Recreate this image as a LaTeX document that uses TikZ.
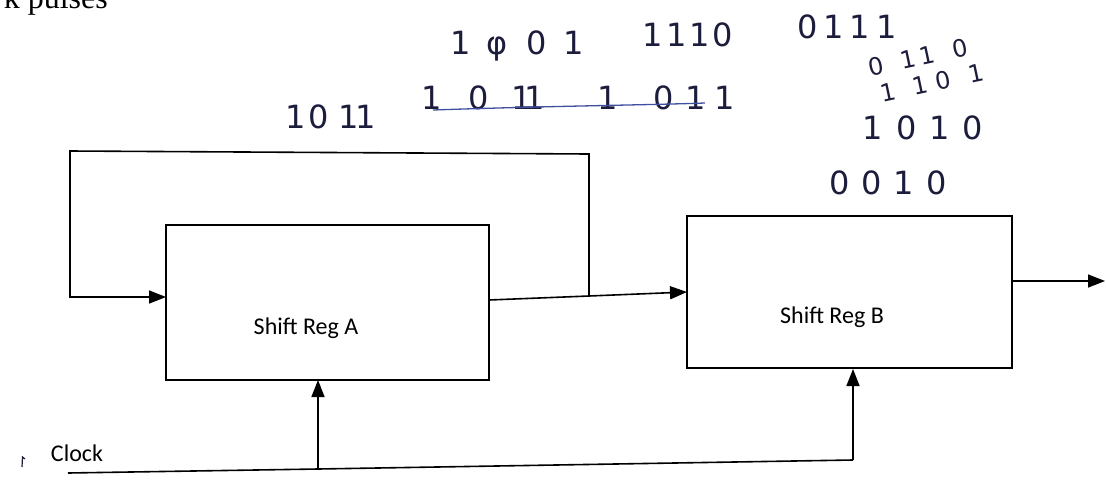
\documentclass[tikz,border=0pt]{standalone}
\usepackage{fontspec}
\setmainfont{Liberation Serif}
\newfontfamily\calfont{Carlito}
\newfontfamily\handfont{DejaVu Sans}
\usetikzlibrary{arrows.meta}
\definecolor{inkc}{HTML}{1C1C3C}
\definecolor{strikec}{HTML}{4050A0}
\tikzset{
  wire/.style={line width=1.6pt},
  arr/.style={wire,-{Triangle[length=17pt,width=13pt]}},
  regbox/.style={draw,line width=1.6pt,minimum width=#1,inner sep=0pt},
  lbl/.style={font=\calfont\fontsize{24}{28}\selectfont,inner sep=0pt},
  ink/.style={text=inkc,font=\handfont\fontsize{32}{32}\selectfont,inner sep=0pt},
  inksm/.style={text=inkc,font=\handfont\fontsize{24}{24}\selectfont,inner sep=0pt}
}
\newcommand{\hs}[1]{\hspace{#1pt}}
\begin{document}
\begin{tikzpicture}[x=1pt,y=-1pt]
\useasboundingbox (0,0) rectangle (1106,483);
% cut-off caption
\begin{scope}
\clip (0,0) rectangle (300,40);
\node[font=\fontsize{32}{32}\selectfont,inner sep=0pt,anchor=base east] (cap) at (108,8) {k pulses};
\end{scope}
% registers
\node[regbox=323pt,minimum height=155pt] (A) at (327.5,302.5) {};
\node[regbox=325pt,minimum height=152pt] (B) at (849.5,292) {};
\node[lbl] (la) at (306,328) {Shift Reg A};
\node[lbl] (lb) at (832,317) {Shift Reg B};
\node[lbl] (clk) at (77,453) {Clock};
% coordinates
\coordinate (aout) at (489,300);
\coordinate (J) at (589,296);
\coordinate (bin) at (687,292);
\coordinate (fbTR) at (589,154);
\coordinate (fbTL) at (70,151);
\coordinate (fbBL) at (70,297);
\coordinate (ain) at (166,297);
\coordinate (bout) at (1012,281);
\coordinate (out) at (1105,281);
\coordinate (ck0) at (68,473);
\coordinate (ckA) at (318,469);
\coordinate (ckB) at (853,460);
\coordinate (Abot) at (318,380);
\coordinate (Bbot) at (853,369);
% connectors
\draw[arr] (aout) -- (J) -- (bin);
\draw[arr] (J) -- (fbTR) -- (fbTL) -- (fbBL) -- (ain);
\draw[arr] (bout) -- (out);
\draw[wire] (ck0) -- (ckA) -- (ckB);
\draw[arr] (ckA) -- (Abot);
\draw[arr] (ckB) -- (Bbot);
% small pen mark
\draw[inkc,line width=1.2pt] (22,467) -- (22.5,457) -- (25,459);
% handwritten notes
\node[ink] (h1) at (517,46) {1\hs{16}φ\hs{19}0\hs{16}1};
\node[ink] (h2) at (688,35) {1\hs{3}1\hs{3}1\hs{3}0};
\node[ink] (h3) at (847,27) {0\hs{6}1\hs{6}1\hs{6}1};
\node[ink] (h4) at (331,117) {1\hs{2}0\hs{10}1\hs{-3}1};
\node[ink] (h5) at (578,98) {1\hs{27}0\hs{22}1\hs{-7}1\hs{53}1\hs{35}0\hs{12}1\hs{8}1};
\draw[strikec,line width=1.3pt] (433,110) .. controls (550,106) and (650,105) .. (705,103);
\node[inksm,rotate=12] (h6) at (918,57) {0\hs{18}1\hs{4}1\hs{18}0};
\node[inksm,rotate=12] (h7) at (932,83) {1\hs{18}1\hs{8}0\hs{18}1};
\node[ink] (h8) at (923,128) {1\hs{13}0\hs{13}1\hs{13}0};
\node[ink] (h9) at (888,183) {0\hs{12}0\hs{12}1\hs{12}0};
\end{tikzpicture}
\end{document}
